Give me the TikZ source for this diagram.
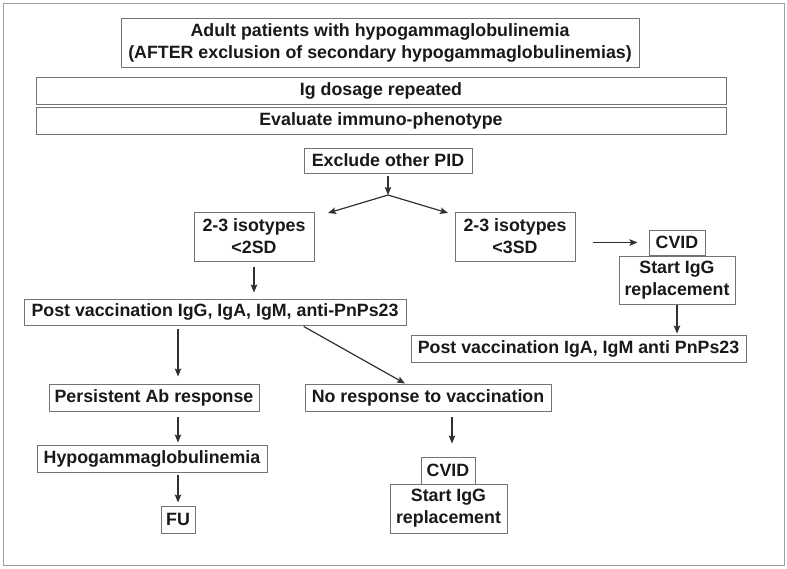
\documentclass[tikz,border=0pt]{standalone}
\usepackage{fontspec}
\setmainfont{Liberation Sans}
\usetikzlibrary{arrows.meta,calc}
\definecolor{boxline}{gray}{0.45}
\definecolor{inkcol}{gray}{0.1}
\newcommand{\fcfont}{\fontsize{17.8pt}{22pt}\selectfont\bfseries}
\newcommand{\flowbox}[5]{
	\node [draw=boxline, line width=1pt, fill=white, text=inkcol, align=center, inner sep=0pt, minimum width=#3, minimum height=#4, font=\fcfont] (#1) at (#2) {#5};}

\begin{document}
\begin{tikzpicture}[>={Stealth[length=8pt,width=6.5pt,inset=1.5pt]}, x=1pt, y=-1pt, conn/.style={->, draw=inkcol!90!white, line width=1.2pt}]
	\useasboundingbox (0,0) rectangle (787,568);
	\draw [gray!75, line width=1pt] (3,3) rectangle (784,565);
	% top of the chart
	\flowbox{adult}{380,42.5}{518pt}{49pt}{Adult patients with hypogammaglobulinemia\\ (AFTER exclusion of secondary hypogammaglobulinemias)}
	\flowbox{dosage}{381,90.5}{690pt}{27pt}{Ig dosage repeated}
	\flowbox{pheno}{381,120.5}{690pt}{27pt}{Evaluate immuno-phenotype}
	\flowbox{pid}{388,160.5}{168pt}{25pt}{Exclude other PID}
	\coordinate (split) at (388,195);
	\coordinate (splitl) at (328,213);
	\coordinate (splitr) at (448,213);
	% two branches
	\flowbox{iso2}{254,236.5}{120pt}{49pt}{2-3 isotypes\\ <2SD}
	\flowbox{iso3}{515,236.5}{120pt}{49pt}{2-3 isotypes\\ <3SD}
	\flowbox{cvidr}{677,242.5}{56pt}{25pt}{CVID}
	\flowbox{startr}{677,280}{116pt}{48pt}{Start IgG\\ replacement}
	\flowbox{postr}{578.5,348.5}{335pt}{27pt}{Post vaccination IgA, IgM anti PnPs23}
	\flowbox{postl}{215,312}{382pt}{26pt}{Post vaccination IgG, IgA, IgM, anti-PnPs23}
	\flowbox{persist}{154,397.5}{210pt}{27pt}{Persistent Ab response}
	\flowbox{noresp}{428,397.5}{246pt}{27pt}{No response to vaccination}
	\flowbox{hypo}{152,458.5}{230pt}{27pt}{Hypogammaglobulinemia}
	\flowbox{fu}{178,519.5}{34pt}{27pt}{FU}
	\flowbox{cvidl}{448,470.5}{54pt}{27pt}{CVID}
	\flowbox{startl}{448.5,508.5}{117pt}{49pt}{Start IgG\\ replacement}
	% connectors
	\draw [conn, shorten <=2pt] (pid) -- (split);
	\draw [conn] (split) -- (splitl);
	\draw [conn] (split) -- (splitr);
	\draw [conn, shorten <=17pt, shorten >=11pt] (iso3.east |- cvidr.west) -- (cvidr.west);
	\draw [conn, shorten >=1pt] (startr) -- (startr |- postr.north);
	\draw [conn, shorten <=5pt, shorten >=6pt] (iso2) -- (iso2 |- postl.north);
	\draw [conn, shorten <=3pt, shorten >=7pt] (postl.south -| fu) -- (persist.north -| fu);
	\draw [conn, shorten <=2pt] ([xshift=87pt]postl.south) -- ([xshift=-23pt]noresp.north);
	\draw [conn, shorten <=5pt, shorten >=2pt] (persist.south -| fu) -- (hypo.north -| fu);
	\draw [conn, shorten <=2pt, shorten >=3pt] (hypo.south -| fu) -- (fu);
	\draw [conn, shorten <=5pt, shorten >=13pt] ([xshift=24pt]noresp.south) -- ([xshift=4pt]cvidl.north);
\end{tikzpicture}
\end{document}
